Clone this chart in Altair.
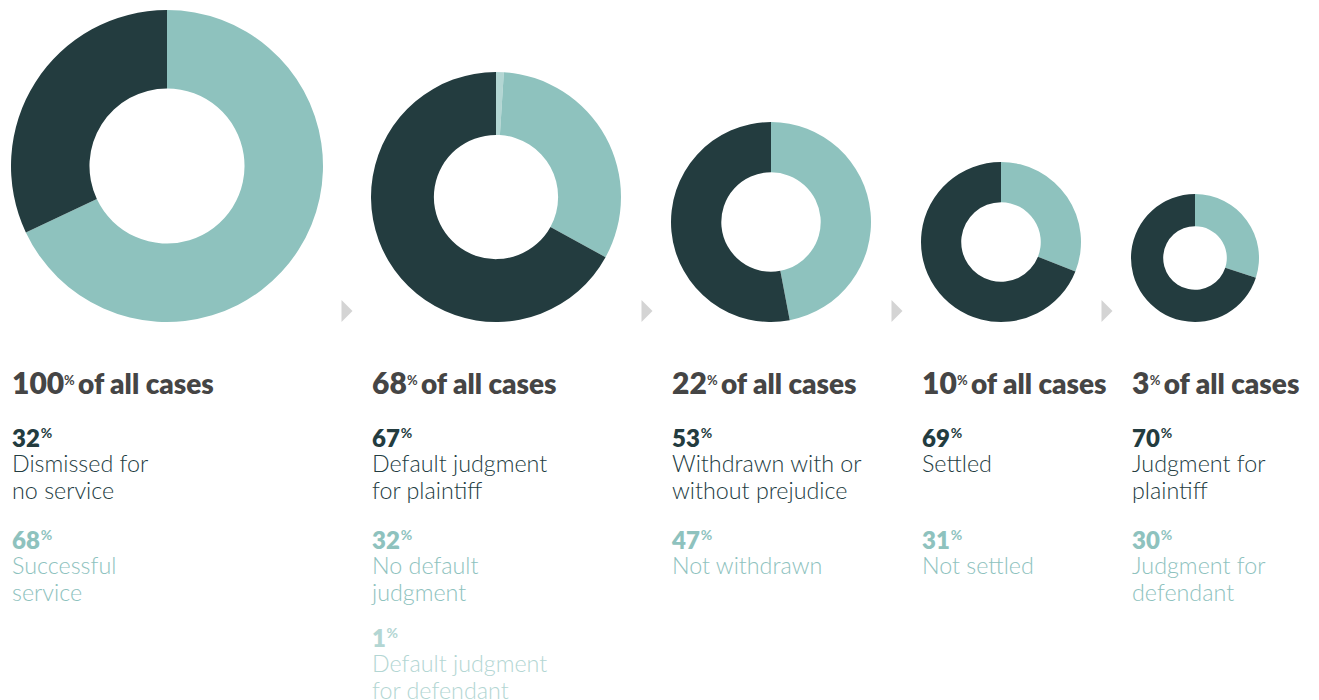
import altair as alt
import pandas as pd

# ---------------- data ----------------
share_of_all = [100, 68, 22, 10, 3]          # % of all cases reaching each stage
primary_pct = [32, 67, 53, 69, 70]
primary_label = [
    ["Dismissed for", "no service"],
    ["Default judgment", "for plaintiff"],
    ["Withdrawn with or", "without prejudice"],
    ["Settled"],
    ["Judgment for", "plaintiff"],
]
secondary_pct = [68, 32, 47, 31, 30]
secondary_label = [
    ["Successful", "service"],
    ["No default", "judgment"],
    ["Not withdrawn"],
    ["Not settled"],
    ["Judgment for", "defendant"],
]
tertiary_pct = [0, 1, 0, 0, 0]
tertiary_label = [[], ["Default judgment", "for defendant"], [], [], []]

# ---------------- layout / style ----------------
W, H = 1319, 700
COL_X = [12, 372, 672, 922, 1132]
OUTER_R = [156, 125, 100, 80, 64]
HOLE = 0.497
DONUT_BOTTOM = 322
ARROW_Y = 311
HEAD_Y = 394
BLOCK_Y = [447, 549, 647]
LINE_DY = [25, 52]
HEADNUM_FS, HEAD_DIGIT = 30, 17.2
HEAD_FS = 28
NUM_FS, NUM_DIGIT = 24, 14.1
LABEL_FS = 23.3

C_DARK = "#233c3f"
C_TEAL = "#8ec2be"
C_PALE = "#b3d6d3"
C_HEAD = "#454545"
color_scale = alt.Scale(domain=["primary", "secondary", "tertiary", "head"],
                        range=[C_DARK, C_TEAL, C_PALE, C_HEAD])

# ---------------- arc data ----------------
arc_rows = []
for i in range(5):
    parts = [("tertiary", tertiary_pct[i]), ("secondary", secondary_pct[i]),
             ("primary", primary_pct[i])]
    for k, (name, v) in enumerate(parts):
        if v > 0:
            arc_rows.append({"donut": i, "part": name, "value": v, "order": k})
arc_df = pd.DataFrame(arc_rows)

layers = []
for i in range(5):
    R = OUTER_R[i]
    layers.append(
        alt.Chart(arc_df)
        .transform_filter(alt.datum.donut == i)
        .mark_arc(x=COL_X[i] - 1 + R, y=DONUT_BOTTOM - R,
                  outerRadius=R, innerRadius=R * HOLE)
        .encode(
            theta=alt.Theta("value:Q", stack=True),
            color=alt.Color("part:N", scale=color_scale, legend=None),
            order=alt.Order("order:Q"),
        )
    )

# ---------------- arrows ----------------
arrow_df = pd.DataFrame({"x": [cx - 25 for cx in COL_X[1:]], "y": [ARROW_Y] * 4})
layers.append(
    alt.Chart(arrow_df)
    .mark_point(shape="M-0.5,-1L0.5,0L-0.5,1Z", size=484, filled=True,
                color="#d4d4d4", opacity=1, strokeWidth=0)
    .encode(x=alt.X("x:Q", scale=None, axis=None),
            y=alt.Y("y:Q", scale=None, axis=None))
)

# ---------------- text data ----------------
rows = []
def add(kind, x, y, text, cat):
    rows.append({"kind": kind, "x": x, "y": y, "text": text, "cat": cat})

for i in range(5):
    x0 = COL_X[i]
    s = str(share_of_all[i])
    add("headnum", x0, HEAD_Y, s, "head")
    add("headpct", x0 + len(s) * HEAD_DIGIT + 0.5, HEAD_Y - 9, "%", "head")
    add("head", x0 + len(s) * HEAD_DIGIT + 14.5, HEAD_Y, "of all cases", "head")
    blocks = [(primary_pct[i], primary_label[i], "primary"),
              (secondary_pct[i], secondary_label[i], "secondary"),
              (tertiary_pct[i], tertiary_label[i], "tertiary")]
    for b, (v, lab, cat) in enumerate(blocks):
        if v <= 0:
            continue
        y = BLOCK_Y[b]
        n = str(v)
        add("num", x0, y, n, cat)
        add("numpct", x0 + len(n) * NUM_DIGIT + 0.5, y - 9, "%", cat)
        for j, line in enumerate(lab):
            add("label", x0, y + LINE_DY[j], line, cat)

text_df = pd.DataFrame(rows)

styles = {
    "headnum": dict(fontSize=HEADNUM_FS, fontWeight=800),
    "head": dict(fontSize=HEAD_FS, fontWeight=800),
    "headpct": dict(fontSize=13, fontWeight="bold"),
    "num": dict(fontSize=NUM_FS, fontWeight=800),
    "numpct": dict(fontSize=14, fontWeight="bold"),
    "label": dict(fontSize=LABEL_FS, fontWeight=300),
}
for kind, st in styles.items():
    layers.append(
        alt.Chart(text_df)
        .transform_filter(alt.datum.kind == kind)
        .mark_text(align="left", baseline="alphabetic", font="Lato", **st)
        .encode(
            x=alt.X("x:Q", scale=None, axis=None),
            y=alt.Y("y:Q", scale=None, axis=None),
            text="text:N",
            color=alt.Color("cat:N", scale=color_scale, legend=None),
        )
    )

chart = (
    alt.layer(*layers)
    .properties(width=W, height=H, padding=0, autosize="none", background="white")
    .configure_view(strokeWidth=0)
)
chart.save("out.html", embed_options={"renderer": "svg", "actions": False})
